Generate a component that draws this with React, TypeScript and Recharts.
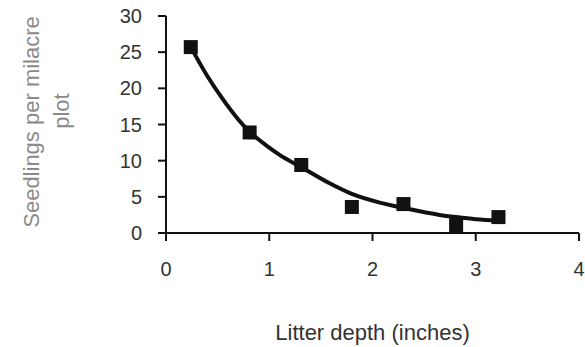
import { ComposedChart, Line, Scatter, XAxis, YAxis } from "recharts";

// observed seedlings per plot
const depthObs = [0.24, 0.81, 1.31, 1.8, 2.3, 2.81, 3.22];
const seedlingsObs = [25.7, 13.9, 9.4, 3.6, 4.0, 1.1, 2.2];

// fitted trend curve
const depthFit = [0.24, 0.4, 0.55, 0.7, 0.81, 1.0, 1.1, 1.31, 1.58, 1.8, 2.07, 2.29, 2.65, 2.81, 3.0, 3.22];
const seedlingsFit = [25.7, 21.7, 18.5, 15.7, 14.0, 11.8, 10.8, 9.1, 6.9, 5.4, 4.2, 3.5, 2.5, 2.2, 1.9, 1.7];

const xTicks = [0, 1, 2, 3, 4];
const yTicks = [0, 5, 10, 15, 20, 25, 30];

const points = depthObs.map((x, i) => ({ x, y: seedlingsObs[i] }));
const curve = depthFit.map((x, i) => ({ x, y: seedlingsFit[i] }));

const FONT = '"Liberation Sans", Arial, sans-serif';

function SquareDot(props: any) {
  const { cx, cy } = props;
  if (cx == null || cy == null) return null;
  return <rect x={cx - 7} y={cy - 7} width={14} height={14} fill="#111" />;
}

function YTitle(props: any) {
  const vb = props.viewBox || { x: 0, y: 16, width: 166, height: 217 };
  const top = vb.y;
  return (
    <g fontFamily={FONT} fontSize={22} fill="#8a8a8a">
      <text
        x={31}
        y={top + 106}
        transform={`rotate(-90 31 ${top + 106})`}
        textAnchor="middle"
        dominantBaseline="central"
      >
        Seedlings per milacre
      </text>
      <text
        x={61}
        y={top + 95}
        transform={`rotate(-90 61 ${top + 95})`}
        textAnchor="middle"
        dominantBaseline="central"
      >
        plot
      </text>
    </g>
  );
}

function XTitle(props: any) {
  const vb = props.viewBox || { x: 166, y: 233, width: 413, height: 114 };
  return (
    <text
      x={vb.x + vb.width / 2}
      y={vb.y + 107}
      textAnchor="middle"
      fontFamily={FONT}
      fontSize={22}
      fill="#333"
    >
      Litter depth (inches)
    </text>
  );
}

export default function App() {
  return (
    <div style={{ position: "absolute", left: 0, top: 0, background: "#fff" }}>
      <ComposedChart
        width={585}
        height={347}
        margin={{ top: 16, right: 6, bottom: 0, left: 0 }}
      >
        <XAxis
          type="number"
          dataKey="x"
          domain={[0, 4]}
          ticks={xTicks}
          allowDataOverflow
          height={114}
          stroke="#111"
          strokeWidth={2}
          tickSize={8}
          tickMargin={21}
          tick={{ fill: "#333", fontSize: 20, fontFamily: FONT }}
          label={<XTitle />}
        />
        <YAxis
          type="number"
          dataKey="y"
          domain={[0, 30]}
          ticks={yTicks}
          allowDataOverflow
          width={166}
          stroke="#111"
          strokeWidth={2}
          tickSize={8}
          tickMargin={16}
          tick={{ fill: "#333", fontSize: 20, fontFamily: FONT }}
          label={<YTitle />}
        />
        <Line
          data={curve}
          dataKey="y"
          type="monotone"
          stroke="#111"
          strokeWidth={4}
          dot={false}
          activeDot={false}
          isAnimationActive={false}
        />
        <Scatter
          data={points}
          dataKey="y"
          shape={<SquareDot />}
          isAnimationActive={false}
        />
      </ComposedChart>
    </div>
  );
}
